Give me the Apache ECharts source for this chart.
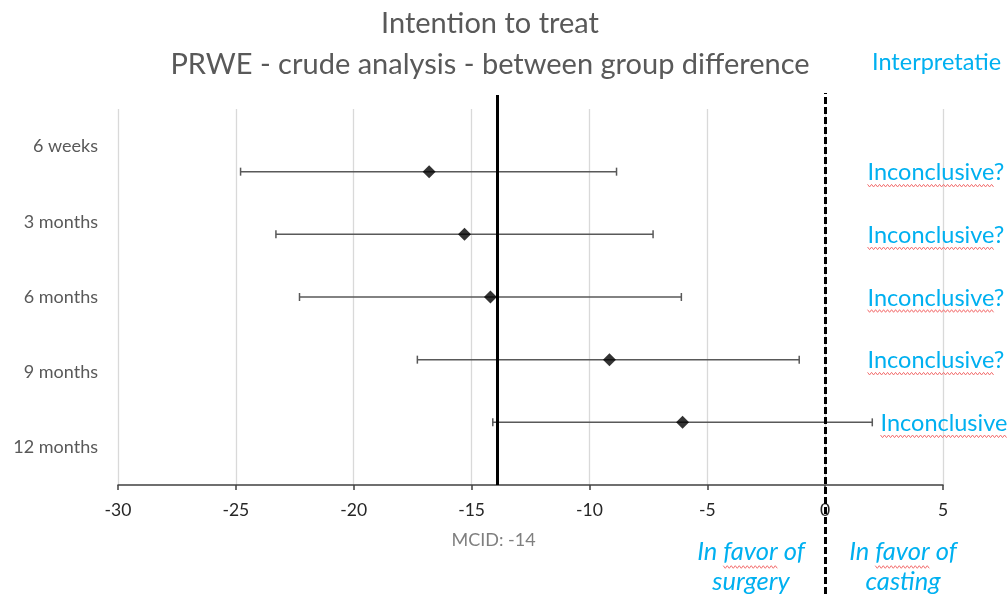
<!DOCTYPE html>
<html><head><meta charset="utf-8">
<script src="https://cdn.jsdelivr.net/npm/echarts@6/dist/echarts.min.js"></script>
<style>html,body{margin:0;padding:0;background:#fff}#c{width:1008px;height:594px}</style>
</head><body><div id="c"></div>
<script>
// ---- data ----
var categories = ['6 weeks', '3 months', '6 months', '9 months', '12 months'];
var rowY = [5, 4, 3, 2, 1];
var estimate = [-16.8, -15.3, -14.2, -9.15, -6.05];
var ciLow = [-24.8, -23.3, -22.3, -17.3, -14.1];
var ciHigh = [-8.85, -7.3, -6.1, -1.1, 2.0];
var interpretation = ['Inconclusive?', 'Inconclusive?', 'Inconclusive?', 'Inconclusive?', 'Inconclusive'];
var xTicks = [-30, -25, -20, -15, -10, -5, 0, 5];
var mcid = -13.9;
var mcidLabel = 'MCID: -14';
var noEffect = 0;

var FONT = 'Lato';
var GRAY = '#595959';
var BLUE = '#00B0F0';
var WAVE = '#f26d6d';
var INTERP_SIZE = 23.5;

var cv = document.createElement('canvas').getContext('2d');
function textW(t, size, style) { cv.font = (style || '') + ' ' + size + 'px ' + FONT; return cv.measureText(t).width; }
function wave(x1, x2, y) {
  var pts = [], i = 0;
  for (var x = x1; x <= x2; x += 2, i++) pts.push([x, y + (i % 2 ? 1.3 : -1.3)]);
  return pts;
}

var errData = rowY.map(function (y, i) { return [ciLow[i], ciHigh[i], y]; });
var ptData = rowY.map(function (y, i) { return [estimate[i], y]; });
var interpData = rowY.map(function (y, i) { return [Math.max(1.8, ciHigh[i] + 0.35), y, interpretation[i]]; });

var chart = echarts.init(document.getElementById('c'));
var gridL = 118, gridR = 65;
var option = {
  animation: false,
  textStyle: { fontFamily: FONT },
  title: {
    text: 'Intention to treat\nPRWE - crude analysis - between group difference',
    left: 485, top: -2, textAlign: 'center',
    textStyle: { fontFamily: FONT, fontSize: 29, fontWeight: 'normal', color: GRAY, lineHeight: 41 }
  },
  grid: [
    { left: gridL, right: gridR, top: 109, bottom: 109 },
    { left: gridL, right: gridR, top: 93, bottom: 0 },
    { left: gridL, right: gridR, top: 95, bottom: 109 }
  ],
  xAxis: [
    { gridIndex: 0, type: 'value', min: xTicks[0], max: xTicks[xTicks.length - 1], interval: 5,
      axisLine: { show: true, lineStyle: { color: '#404040', width: 1.5 } },
      axisTick: { show: true, length: 5, lineStyle: { color: '#404040', width: 1.5 } },
      axisLabel: { color: '#262626', fontSize: 17.5, fontFamily: FONT, margin: 16 },
      splitLine: { show: true, lineStyle: { color: '#d9d9d9', width: 1.3 } } },
    { gridIndex: 1, type: 'value', min: xTicks[0], max: xTicks[xTicks.length - 1], show: false },
    { gridIndex: 2, type: 'value', min: xTicks[0], max: xTicks[xTicks.length - 1], show: false }
  ],
  yAxis: [
    { gridIndex: 0, type: 'category', data: categories, inverse: true,
      axisLine: { show: false }, axisTick: { show: false },
      axisLabel: { color: GRAY, fontSize: 18, fontFamily: FONT, margin: 20 } },
    { gridIndex: 0, type: 'value', min: 0, max: 6, show: false, splitLine: { show: false } },
    { gridIndex: 1, type: 'value', min: 0, max: 1, show: false },
    { gridIndex: 2, type: 'value', min: 0, max: 1, show: false }
  ],
  series: [
    { type: 'line', xAxisIndex: 1, yAxisIndex: 2, data: [], silent: true,
      markLine: { symbol: 'none', silent: true, label: { show: false },
        lineStyle: { color: '#000', width: 3, type: [7, 3] }, data: [{ xAxis: noEffect }] } },
    { type: 'line', xAxisIndex: 2, yAxisIndex: 3, data: [], silent: true,
      markLine: { symbol: 'none', silent: true,
        label: { show: true, position: 'start', formatter: mcidLabel, color: '#7f7f7f', fontSize: 18, fontFamily: FONT, distance: [0, 46], offset: [-4, 0] },
        lineStyle: { color: '#000', width: 3, type: 'solid' }, data: [{ xAxis: mcid }] } },
    { type: 'custom', xAxisIndex: 0, yAxisIndex: 1, data: errData, encode: { x: [0, 1], y: 2 }, z: 3,
      renderItem: function (params, api) {
        var y = api.value(2);
        var a = api.coord([api.value(0), y]);
        var b = api.coord([api.value(1), y]);
        var st = { stroke: '#595959', lineWidth: 1.5 };
        return { type: 'group', children: [
          { type: 'line', shape: { x1: a[0], y1: a[1], x2: b[0], y2: b[1] }, style: st },
          { type: 'line', shape: { x1: a[0], y1: a[1] - 4, x2: a[0], y2: a[1] + 4 }, style: st },
          { type: 'line', shape: { x1: b[0], y1: b[1] - 4, x2: b[0], y2: b[1] + 4 }, style: st }
        ] };
      } },
    { type: 'scatter', xAxisIndex: 0, yAxisIndex: 1, data: ptData, symbol: 'diamond', symbolSize: 13,
      itemStyle: { color: '#000' }, z: 5 },
    { type: 'custom', xAxisIndex: 0, yAxisIndex: 1, data: interpData, encode: { x: 0, y: 1 }, clip: false, z: 6,
      renderItem: function (params, api) {
        var p = api.coord([api.value(0), api.value(1)]);
        var t = interpretation[params.dataIndex];
        var w = textW('Inconclusive', INTERP_SIZE);
        return { type: 'group', children: [
          { type: 'text', x: p[0], y: p[1] + 1, style: { text: t, fill: BLUE, font: INTERP_SIZE + 'px ' + FONT, textAlign: 'left', textVerticalAlign: 'middle' } },
          { type: 'polyline', shape: { points: wave(p[0], p[0] + w, p[1] + 14) }, style: { stroke: WAVE, lineWidth: 1, fill: null } }
        ] };
      } }
  ],
  graphic: [
    { type: 'text', x: 872, y: 62, style: { text: 'Interpretatie', fill: BLUE, font: INTERP_SIZE + 'px ' + FONT, textVerticalAlign: 'middle' } }
  ]
};

// "In favor of ..." annotations
function favor(cx, word) {
  var s = 25.5, f = 'italic ' + s + 'px ' + FONT;
  var l1 = 'In favor of';
  var w1 = textW(l1, s, 'italic'), w2 = textW(word, s, 'italic');
  var wIn = textW('In ', s, 'italic'), wFav = textW('favor', s, 'italic');
  var x1 = cx - w1 / 2, x2 = cx - w2 / 2;
  option.graphic.push(
    { type: 'text', x: x1, y: 552, style: { text: l1, fill: BLUE, font: f, textVerticalAlign: 'middle' } },
    { type: 'text', x: x2, y: 582, style: { text: word, fill: BLUE, font: f, textVerticalAlign: 'middle' } },
    { type: 'polyline', shape: { points: wave(x1 + wIn, x1 + wIn + wFav, 567) }, style: { stroke: WAVE, lineWidth: 1, fill: null } },
    { type: 'polyline', shape: { points: wave(x2, x2 + w2, 596) }, style: { stroke: WAVE, lineWidth: 1, fill: null } }
  );
}
favor(751, 'surgery');
favor(903, 'casting');

chart.setOption(option);
</script></body></html>
